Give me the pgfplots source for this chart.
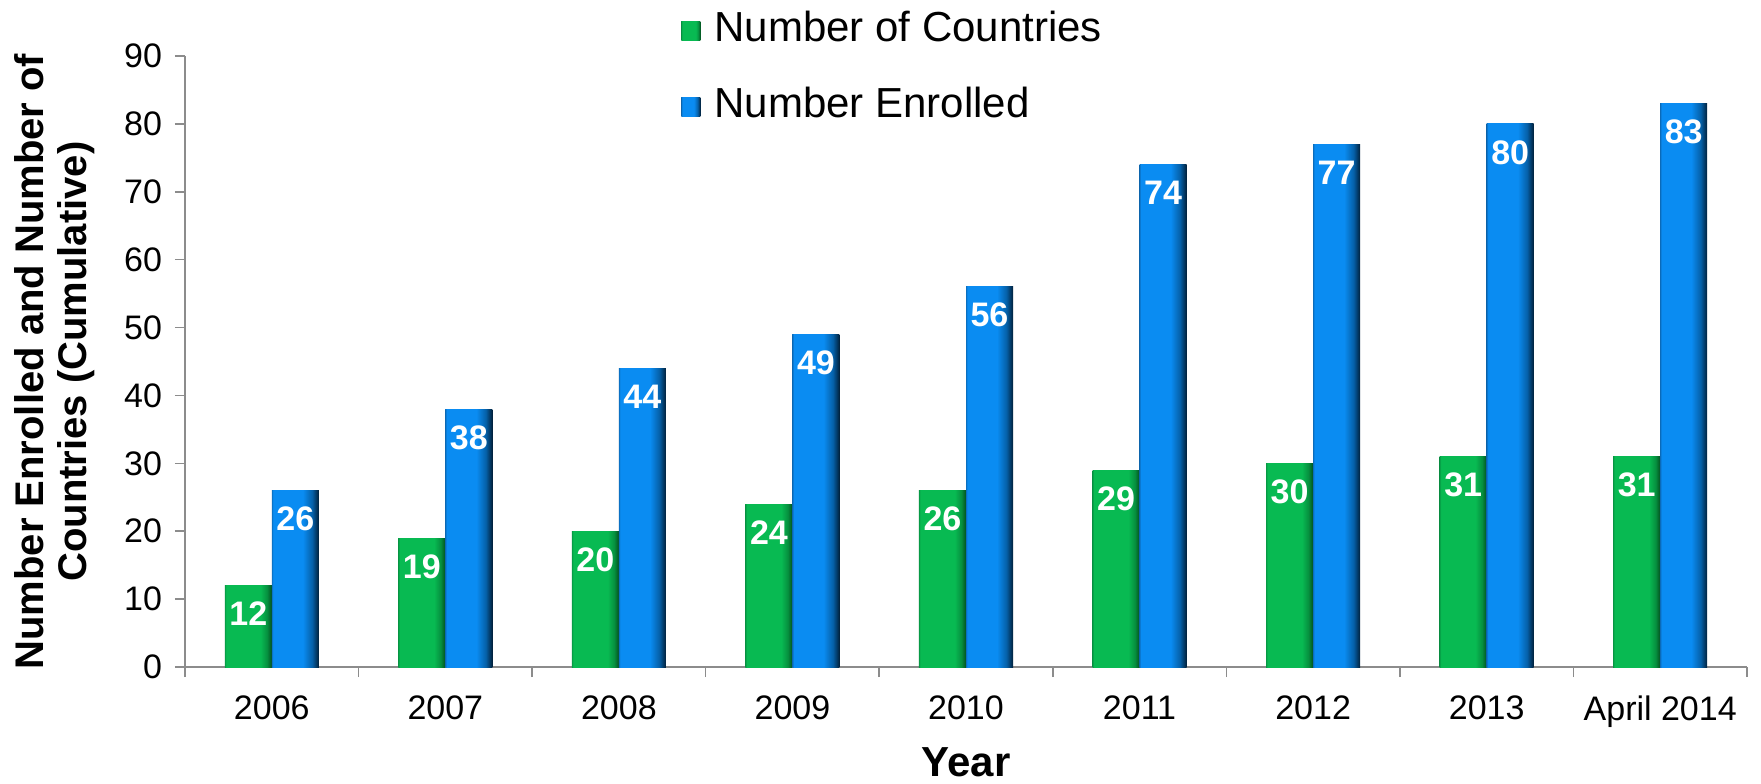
\documentclass[border=0pt]{standalone}
\usepackage{pgfplots}
\pgfplotsset{compat=1.18}
\usepackage{pgfplotstable}
\usepackage{fontspec}
\setmainfont{Liberation Sans}

\definecolor{gL}{HTML}{079A45}
\definecolor{gM}{HTML}{08BA52}
\definecolor{gD1}{HTML}{06903F}
\definecolor{gD2}{HTML}{03501F}
\definecolor{bL}{HTML}{0B6FC0}
\definecolor{bM}{HTML}{0A8CF2}
\definecolor{bD1}{HTML}{0560A8}
\definecolor{bD2}{HTML}{01203A}
\definecolor{axgray}{HTML}{8C8C8C}

\pgfdeclarehorizontalshading{greenshade}{100bp}{color(0bp)=(gL); color(25bp)=(gL); color(26.5bp)=(gM); color(63bp)=(gM); color(70bp)=(gD1); color(75bp)=(gD2); color(100bp)=(gD2)}
\pgfdeclarehorizontalshading{blueshade}{100bp}{color(0bp)=(bL); color(25bp)=(bL); color(26.5bp)=(bM); color(58bp)=(bM); color(68bp)=(bD1); color(75bp)=(bD2); color(100bp)=(bD2)}

\pgfplotstableread{
cat G B
0 12 26
1 19 38
2 20 44
3 24 49
4 26 56
5 29 74
6 30 77
7 31 80
8 31 83
}\datatable

\pgfplotsset{
  greenbar/.style={ybar, bar width=23.5pt, bar shift=-11.75pt, draw=none, fill=gM, shade, shading=greenshade},
  bluebar/.style={ybar, bar width=23.5pt, bar shift=11.75pt, draw=none, fill=bM, shade, shading=blueshade},
}

\begin{document}
\begin{tikzpicture}
\useasboundingbox (-92.5pt,-58pt) rectangle (788pt,333.5pt);
\begin{axis}[
  scale only axis,
  width=781pt, height=305.5pt,
  xmin=-0.5, xmax=8.5,
  ymin=0, ymax=90,
  ytick={0,10,...,90},
  xtick={0,...,8},
  xticklabels={2006,2007,2008,2009,2010,2011,2012,2013,April 2014},
  minor xtick={-0.5,0.5,...,8.5},
  major x tick style={draw=none},
  tick align=outside,
  tick pos=left,
  major tick length=5pt,
  minor tick length=5pt,
  axis x line*=bottom,
  axis y line*=left,
  axis line style={axgray, line width=0.8pt},
  every tick/.style={axgray, line width=0.8pt},
  /pgf/number format/assume math mode=true,
  ticklabel style={font=\fontsize{17}{19}\selectfont},
  yticklabel style={xshift=-3pt},
  xticklabel style={yshift=-6pt},
  xlabel={Year},
  xlabel style={font=\fontsize{21}{24}\selectfont\bfseries, at={(axis description cs:0.5,-0.156)}, anchor=center},
  ylabel={Number Enrolled and Number of\\Countries (Cumulative)},
  ylabel style={font=\fontsize{20}{21.5}\selectfont\bfseries, align=center, at={(axis description cs:-0.0832,0.5)}, anchor=center},
  nodes near coords,
  every node near coord/.append style={font=\fontsize{17}{19}\selectfont\bfseries, text=white, anchor=north, inner sep=0pt, yshift=-8pt},
  legend style={draw=none, fill=none, at={(axis description cs:0.3137,1.083)}, anchor=north west,
    font=\fontsize{21}{24}\selectfont, row sep=17pt,
    nodes={inner sep=1pt, text height=15pt, text depth=4pt},
    /tikz/every odd column/.append style={column sep=6pt}},
  legend cell align=left,
  legend image code/.code={\path[#1] (0pt,-4.75pt) rectangle (9.5pt,4.75pt);},
]
\addlegendimage{greenbar}
\addlegendentry{Number of Countries}
\addlegendimage{bluebar}
\addlegendentry{Number Enrolled}
\pgfplotsinvokeforeach{0,...,8}{
  \addplot[greenbar, forget plot, every node near coord/.append style={xshift=-11.75pt}] table[x=cat, y=G, restrict x to domain=#1:#1] {\datatable};
  \addplot[bluebar, forget plot, every node near coord/.append style={xshift=11.75pt}] table[x=cat, y=B, restrict x to domain=#1:#1] {\datatable};
}
\end{axis}
\end{tikzpicture}
\end{document}
